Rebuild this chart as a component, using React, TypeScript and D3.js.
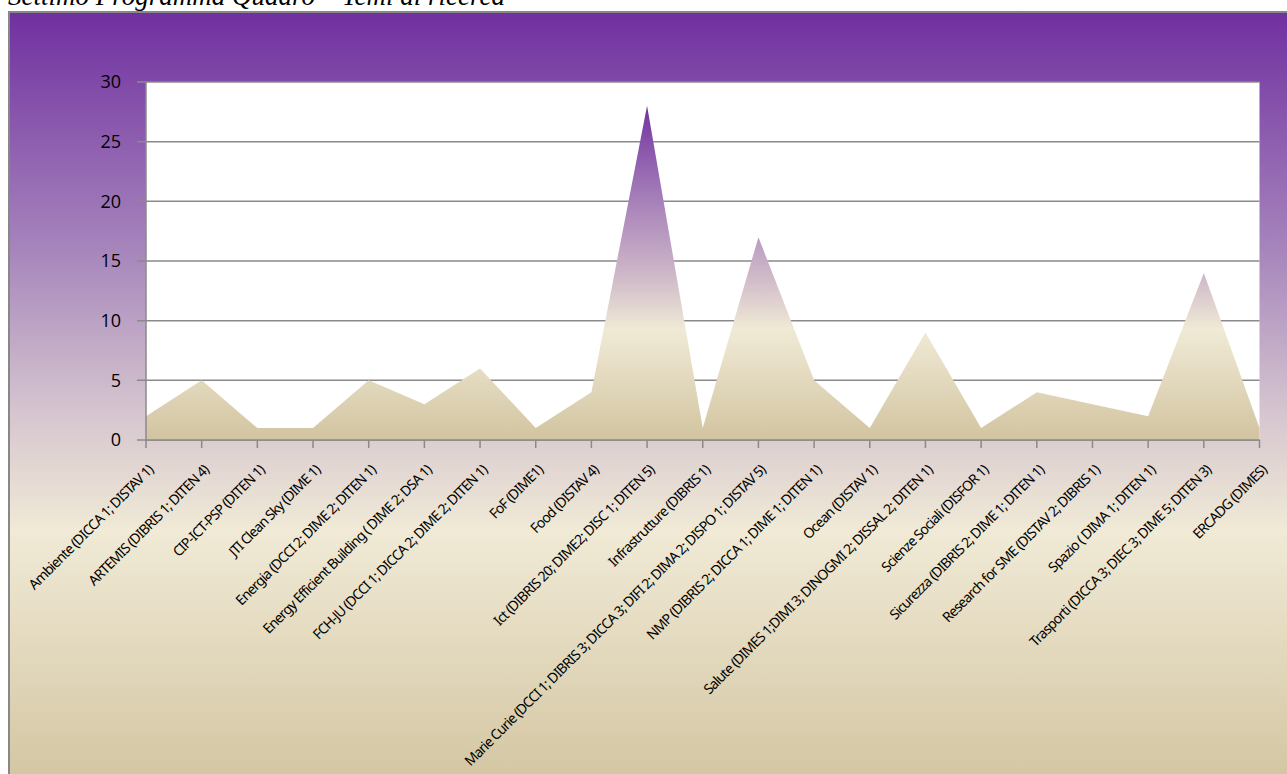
import React from "react";
import * as d3 from "d3";

const categories: string[] = [
  "Ambiente (DICCA 1; DISTAV 1)",
  "ARTEMIS (DIBRIS 1; DITEN 4)",
  "CIP-ICT-PSP (DITEN 1)",
  "JTI Clean Sky (DIME 1)",
  "Energia (DCCI 2; DIME 2; DITEN 1)",
  "Energy Efficient Building ( DIME 2; DSA 1)",
  "FCH-JU (DCCI 1; DICCA 2; DIME 2; DITEN 1)",
  "FoF (DIME1)",
  "Food (DISTAV 4)",
  "Ict (DIBRIS 20; DIME2; DISC 1; DITEN 5)",
  "Infrastrutture (DIBRIS 1)",
  "Marie Curie (DCCI 1; DIBRIS 3; DICCA 3; DIFI 2; DIMA 2; DISPO 1; DISTAV 5)",
  "NMP (DIBRIS 2; DICCA 1; DIME 1; DITEN 1)",
  "Ocean (DISTAV 1)",
  "Salute (DIMES 1;DIMI 3; DINOGMI 2; DISSAL 2; DITEN 1)",
  "Scienze Sociali  (DISFOR 1)",
  "Sicurezza  (DIBRIS 2; DIME 1; DITEN 1)",
  "Research for SME (DISTAV 2; DIBRIS 1)",
  "Spazio ( DIMA 1; DITEN 1)",
  "Trasporti  (DICCA 3; DIEC 3; DIME 5; DITEN 3)",
  "ERCADG (DIMES)",
];

const values: number[] = [2, 5, 1, 1, 5, 3, 6, 1, 4, 28, 1, 17, 5, 1, 9, 1, 4, 3, 2, 14, 1];

const yTicks: number[] = [0, 5, 10, 15, 20, 25, 30];

const title = "Settimo Programma Quadro – Temi di ricerca";

const W = 1287;
const H = 774;
const plot = { left: 146, right: 1259.5, top: 82, bottom: 440 };

export default function App() {
  const x = d3
    .scalePoint<number>()
    .domain(d3.range(categories.length))
    .range([plot.left, plot.right]);
  const y = d3.scaleLinear().domain([0, 30]).range([plot.bottom, plot.top]);

  const area = d3
    .area<number>()
    .x((_, i) => x(i) as number)
    .y0(y(0))
    .y1((d) => y(d));

  const gridColor = "#8a8a8a";

  return (
    <svg
      width={W}
      height={H}
      style={{ position: "absolute", left: 0, top: 0, display: "block" }}
    >
      <defs>
        <linearGradient id="bgGrad" x1="0" y1="0" x2="0" y2="1">
          <stop offset="0" stopColor="#7030a0" />
          <stop offset="0.3" stopColor="#a583bb" />
          <stop offset="0.52" stopColor="#d6c6cf" />
          <stop offset="0.67" stopColor="#f0ead6" />
          <stop offset="1" stopColor="#d3c5a1" />
        </linearGradient>
        <linearGradient id="areaGrad" x1="0" y1="0" x2="0" y2="1">
          <stop offset="0" stopColor="#7232a1" />
          <stop offset="0.28" stopColor="#a680b9" />
          <stop offset="0.5" stopColor="#cdb6c8" />
          <stop offset="0.67" stopColor="#f0ead6" />
          <stop offset="1" stopColor="#d2c4a0" />
        </linearGradient>
      </defs>

      <text
        x={8}
        y={5}
        fontFamily="'Liberation Serif', 'Times New Roman', serif"
        fontStyle="italic"
        fontSize={27}
        fill="#000"
      >
        {title}
      </text>

      <rect
        x={9}
        y={12}
        width={W}
        height={H}
        fill="url(#bgGrad)"
        stroke="#888"
        strokeWidth={2}
      />

      <rect
        x={plot.left}
        y={plot.top}
        width={plot.right - plot.left}
        height={plot.bottom - plot.top}
        fill="#fff"
      />

      {yTicks.map((t) => (
        <g key={t}>
          <line
            x1={plot.left - 9}
            x2={plot.right}
            y1={y(t)}
            y2={y(t)}
            stroke={gridColor}
            strokeWidth={1.5}
          />
          <text
            x={121}
            y={y(t)}
            dy="0.36em"
            textAnchor="end"
            fontFamily="'Open Sans', 'Noto Sans', sans-serif"
            fontSize={18}
            fill="#000"
          >
            {t}
          </text>
        </g>
      ))}

      <path d={area(values) || ""} fill="url(#areaGrad)" />

      <line
        x1={plot.left}
        x2={plot.left}
        y1={plot.top}
        y2={plot.bottom}
        stroke={gridColor}
        strokeWidth={1.5}
      />
      <line
        x1={plot.left}
        x2={plot.right}
        y1={plot.bottom}
        y2={plot.bottom}
        stroke={gridColor}
        strokeWidth={1.5}
      />
      {categories.map((c, i) => (
        <line
          key={"t" + i}
          x1={x(i) as number}
          x2={x(i) as number}
          y1={plot.bottom}
          y2={plot.bottom + 8}
          stroke={gridColor}
          strokeWidth={1.5}
        />
      ))}

      {categories.map((c, i) => {
        const tx = (x(i) as number) + 8;
        const ty = 471;
        return (
          <text
            key={"l" + i}
            transform={`translate(${tx},${ty}) rotate(-45)`}
            textAnchor="end"
            fontFamily="'Noto Sans', 'Open Sans', sans-serif"
            fontSize={14}
            letterSpacing={-0.9}
            fill="#000"
          >
            {c}
          </text>
        );
      })}
    </svg>
  );
}
